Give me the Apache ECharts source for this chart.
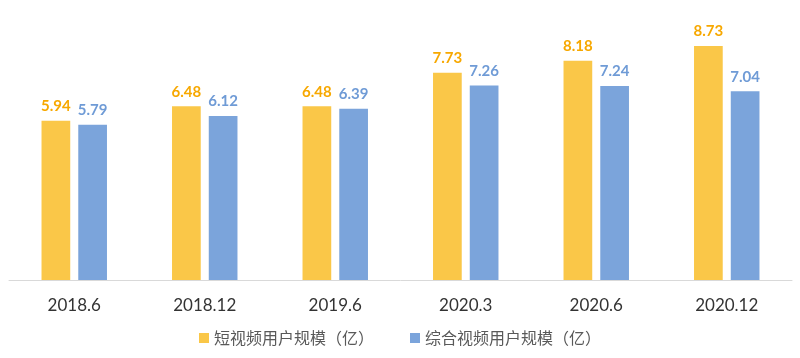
<!DOCTYPE html>
<html><head><meta charset="utf-8">
<script src="https://cdn.jsdelivr.net/npm/echarts@6/dist/echarts.min.js"></script>
<style>html,body{margin:0;padding:0;background:#fff}#c{width:800px;height:358px}</style>
</head><body><div id="c"></div>
<script>
var categories = ['2018.6','2018.12','2019.6','2020.3','2020.6','2020.12'];
var shortVideo = [5.94, 6.48, 6.48, 7.73, 8.18, 8.73];
var generalVideo = [5.79, 6.12, 6.39, 7.26, 7.24, 7.04];
var seriesNames = ['短视频用户规模（亿）','综合视频用户规模（亿）'];

var chart = echarts.init(document.getElementById('c'));
chart.setOption({
  animation: false,
  backgroundColor: '#fff',
  textStyle: {fontFamily: 'Lato, "Noto Sans CJK SC", sans-serif'},
  legend: {
    bottom: 7, left: 'center', itemWidth: 10, itemHeight: 10, itemGap: 36,
    icon: 'rect',
    textStyle: {color: '#595959', fontSize: 16, fontFamily: '"Noto Sans CJK SC", sans-serif'},
    data: seriesNames
  },
  grid: {left: 9, right: 8, top: 12, bottom: 78},
  xAxis: {
    type: 'category', data: categories,
    axisLine: {lineStyle: {color: '#d9d9d9', width: 1}},
    axisTick: {show: false},
    axisLabel: {color: '#333', fontSize: 17, margin: 17, fontFamily: 'Lato, sans-serif'}
  },
  yAxis: {type: 'value', min: 0, max: 10, show: false, splitLine: {show: false}},
  series: [
    {name: seriesNames[0], type: 'bar', data: shortVideo, barWidth: '22%', barGap: '28%',
     itemStyle: {color: '#FAC748'},
     label: {show: true, position: 'top', distance: 7, color: '#F7A800', fontWeight: 'bold', fontSize: 15, fontFamily: 'Lato, sans-serif', formatter: function(p){return p.value.toFixed(2);}}},
    {name: seriesNames[1], type: 'bar', data: generalVideo, barWidth: '22%',
     itemStyle: {color: '#7BA4DB'},
     label: {show: true, position: 'top', distance: 7, color: '#6F9BD6', fontWeight: 'bold', fontSize: 15, fontFamily: 'Lato, sans-serif', formatter: function(p){return p.value.toFixed(2);}}}
  ]
});
</script></body></html>
